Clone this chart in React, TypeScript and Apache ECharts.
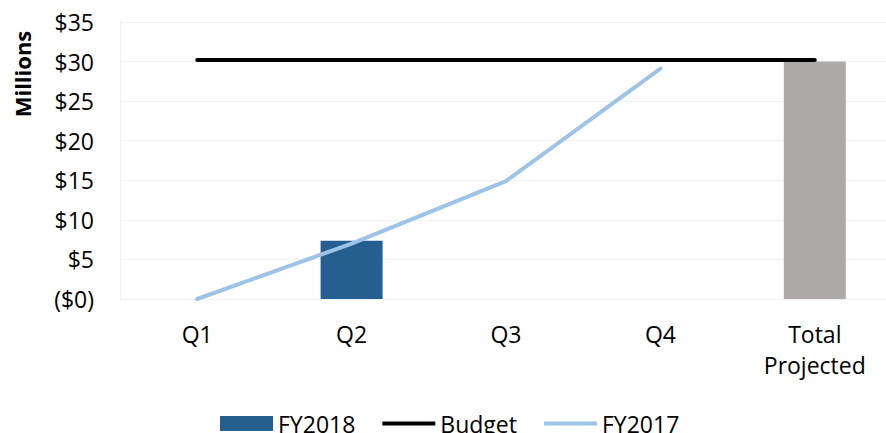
import React, { useEffect, useRef } from "react";
import * as echarts from "echarts";

const categories = ["Q1", "Q2", "Q3", "Q4", "Total\nProjected"];
const fy2018 = [null, 7.35, null, null, null];
const totalProjected = [null, null, null, null, 30.0];
const budget = [30.2, 30.2, 30.2, 30.2, 30.2];
const fy2017 = [0, 7.0, 14.9, 29.1, null];
const yTicks = [0, 5, 10, 15, 20, 25, 30, 35];

const FONT = "Open Sans";
const LINE_ICON = "path://M0,0H53V4H0Z";

export default function App() {
  const ref = useRef<HTMLDivElement>(null);
  useEffect(() => {
    document.body.style.margin = "0";
    document.body.style.overflow = "hidden";
    const chart = echarts.init(ref.current!, null, { renderer: "svg" });
    chart.setOption({
      animation: false,
      textStyle: { fontFamily: FONT },
      grid: { left: 120, top: 22, width: 772, height: 277, containLabel: false },
      graphic: [
        {
          type: "text",
          x: 22,
          y: 74,
          rotation: Math.PI / 2,
          style: {
            text: "Millions",
            fontFamily: FONT,
            fontSize: 22,
            fontWeight: "bold",
            fill: "#000",
            textAlign: "center",
            textVerticalAlign: "middle",
          },
        },
      ],
      legend: {
        left: 220,
        top: 409,
        padding: 0,
        itemGap: 27,
        itemWidth: 53,
        itemHeight: 15,
        symbolKeepAspect: true,
        textStyle: { fontFamily: FONT, fontSize: 23, color: "#000", lineHeight: 29 },
        data: [
          { name: "FY2018", icon: "rect" },
          { name: "Budget", icon: LINE_ICON },
          { name: "FY2017", icon: LINE_ICON },
        ],
      },
      xAxis: {
        type: "category",
        data: categories,
        boundaryGap: true,
        axisLine: { show: true, lineStyle: { color: "#f0f0f0", width: 1 } },
        axisTick: { show: false },
        axisLabel: {
          fontFamily: FONT,
          fontSize: 23,
          color: "#000",
          margin: 19,
          lineHeight: 31,
          interval: 0,
        },
      },
      yAxis: {
        type: "value",
        min: 0,
        max: 35,
        interval: 5,
        axisLine: { show: true, lineStyle: { color: "#f0f0f0", width: 1 } },
        axisTick: { show: false },
        splitLine: { show: true, lineStyle: { color: "#f2f2f2", width: 1 } },
        axisLabel: {
          fontFamily: FONT,
          fontSize: 23,
          color: "#000",
          margin: 26,
          formatter: (v: number) => (v === 0 ? "($0)" : "$" + v),
          customValues: yTicks,
        },
      },
      series: [
        {
          name: "FY2018",
          type: "bar",
          stack: "a",
          data: fy2018,
          barWidth: 62,
          itemStyle: { color: "#255e91" },
        },
        {
          name: "Total Projected",
          type: "bar",
          stack: "a",
          data: totalProjected,
          barWidth: 62,
          itemStyle: { color: "#aeaaaa" },
        },
        {
          name: "Budget",
          type: "line",
          data: budget,
          symbol: "none",
          lineStyle: { color: "#000", width: 4, cap: "round" },
          itemStyle: { color: "#000" },
        },
        {
          name: "FY2017",
          type: "line",
          data: fy2017,
          symbol: "none",
          lineStyle: { color: "#9dc3e6", width: 4, cap: "round" },
          itemStyle: { color: "#9dc3e6" },
        },
      ],
    });
    return () => chart.dispose();
  }, []);
  return (
    <div style={{ width: 886, height: 433, overflow: "hidden", position: "relative" }}>
      <div ref={ref} style={{ width: 900, height: 433 }} />
    </div>
  );
}
